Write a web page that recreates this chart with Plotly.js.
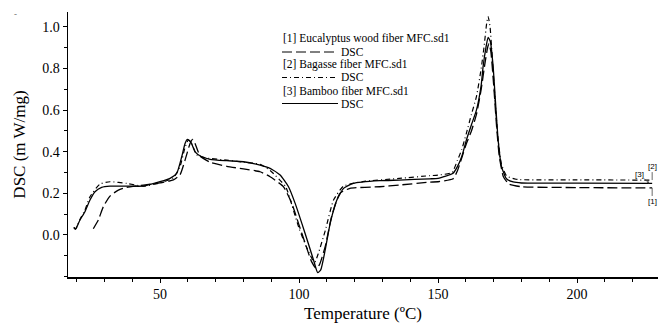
<!DOCTYPE html>
<html>
<head>
<meta charset="utf-8">
<script src="https://cdn.plot.ly/plotly-3.0.1.min.js"></script>
<style>html,body{margin:0;padding:0;background:#fff;}#chart{width:659px;height:327px;}</style>
</head>
<body>
<div id="chart"></div>
<script>
// Series names
const seriesNames = ["[1] Eucalyptus wood fiber MFC.sd1", "[2] Bagasse fiber MFC.sd1", "[3] Bamboo fiber MFC.sd1"];

// [1] Eucalyptus wood fiber MFC (dashed)
const eucT = [26, 27.8, 29.6, 32, 35, 38, 44, 50, 54.8, 57.2, 59, 60.8, 61.7, 62.6, 64.4, 68, 74, 80, 86, 89.6, 94.4, 97.4, 99.8, 102.2, 104.5, 106.1, 107.3, 109.4, 111.7, 114.7, 118.3, 129, 136, 147, 150, 155.4, 157, 158.5, 160.2, 162, 163.8, 165.5, 166.8, 167.8, 168.3, 169, 170, 171, 172, 173.5, 175.5, 180, 200, 227];
const eucY = [0.03, 0.072, 0.136, 0.187, 0.216, 0.229, 0.24, 0.25, 0.265, 0.29, 0.36, 0.44, 0.46, 0.44, 0.38, 0.35, 0.33, 0.318, 0.304, 0.28, 0.232, 0.152, 0.056, -0.04, -0.128, -0.16, -0.144, -0.056, 0.088, 0.2, 0.224, 0.232, 0.24, 0.254, 0.256, 0.27, 0.31, 0.37, 0.44, 0.5, 0.58, 0.7, 0.82, 0.9, 0.92, 0.88, 0.72, 0.53, 0.38, 0.28, 0.245, 0.232, 0.228, 0.226];

// [2] Bagasse fiber MFC (dash-dot)
const bagT = [19.0, 19.6, 20.3, 21.2, 23, 24.8, 28.4, 32, 38, 44, 50, 54.8, 57.2, 59, 60.2, 61.4, 63.2, 66.8, 74, 80, 86, 89.6, 95.2, 97.6, 100, 102.6, 104.9, 105.7, 106.9, 109.4, 112.4, 116, 123, 136, 147, 150, 155, 157, 158.5, 160.2, 162, 163.8, 165.5, 166.5, 167.5, 168, 168.7, 169.5, 170.5, 171.5, 172.8, 174.6, 178, 200, 227];
const bagY = [0.036, 0.028, 0.045, 0.075, 0.12, 0.184, 0.245, 0.256, 0.248, 0.235, 0.25, 0.275, 0.33, 0.42, 0.457, 0.44, 0.385, 0.37, 0.36, 0.35, 0.34, 0.31, 0.232, 0.136, 0.032, -0.056, -0.12, -0.13, -0.09, 0.02, 0.168, 0.235, 0.257, 0.272, 0.285, 0.288, 0.30, 0.36, 0.41, 0.49, 0.58, 0.665, 0.8, 0.9, 1.02, 1.05, 1.0, 0.85, 0.65, 0.47, 0.34, 0.285, 0.268, 0.265, 0.264];

// [3] Bamboo fiber MFC (solid)
const bamT = [19.0, 19.6, 20.3, 21.2, 23, 24.8, 26.6, 29, 32, 38, 44, 50, 53.6, 56, 57.8, 59, 59.8, 61, 62.6, 65, 68, 74, 80, 86, 89.6, 93.2, 96.2, 98.6, 101, 103.3, 105.2, 106.7, 107.8, 109.4, 111.2, 113.6, 116, 119.5, 129, 136, 147, 150, 155.4, 157, 158.5, 160.2, 162, 163.8, 165.5, 166.2, 167.2, 168, 168.8, 169.8, 170.7, 171.6, 172.8, 174.6, 177, 180, 200, 227];
const bamY = [0.036, 0.028, 0.045, 0.072, 0.112, 0.168, 0.208, 0.229, 0.235, 0.235, 0.235, 0.256, 0.272, 0.296, 0.376, 0.44, 0.46, 0.449, 0.40, 0.376, 0.364, 0.357, 0.352, 0.336, 0.32, 0.288, 0.232, 0.152, 0.056, -0.04, -0.12, -0.181, -0.168, -0.072, 0.056, 0.168, 0.224, 0.248, 0.261, 0.264, 0.27, 0.272, 0.297, 0.33, 0.376, 0.457, 0.53, 0.60, 0.72, 0.81, 0.9, 0.95, 0.93, 0.81, 0.63, 0.457, 0.33, 0.27, 0.255, 0.25, 0.249, 0.248];

const xTickVals = [50, 100, 150, 200];
const yTickVals = [0.0, 0.2, 0.4, 0.6, 0.8, 1.0];
const yTickText = ["0.0", "0.2", "0.4", "0.6", "0.8", "1.0"];

const serif = "Liberation Serif, Times New Roman, serif";
const dashEuc = "10px,4px";
const dashBag = "5px,3px,1px,3px";

const traces = [
  {x: eucT, y: eucY, name: seriesNames[0], mode: "lines", line: {color: "#000", width: 1.3, dash: dashEuc, shape: "spline", smoothing: 0.5}},
  {x: bagT, y: bagY, name: seriesNames[1], mode: "lines", line: {color: "#000", width: 1.2, dash: dashBag, shape: "spline", smoothing: 0.5}},
  {x: bamT, y: bamY, name: seriesNames[2], mode: "lines", line: {color: "#000", width: 1.3, shape: "spline", smoothing: 0.5}}
];

// legend block (paper coords computed from plot area)
const L = 68, R = 658, T = 12, B = 277;
const px = p => (p - L) / (R - L);
const py = p => (B - p) / (B - T);

const legendText = [
  {t: seriesNames[0], y: 39},
  {t: "DSC", y: 52, dsc: true},
  {t: seriesNames[1], y: 64.5},
  {t: "DSC", y: 77.5, dsc: true},
  {t: seriesNames[2], y: 90.5},
  {t: "DSC", y: 103.5, dsc: true}
];
const annotations = legendText.map(d => ({
  xref: "paper", yref: "paper", x: px(d.dsc ? 340 : 282), y: py(d.y),
  xanchor: "left", yanchor: "middle", showarrow: false, text: d.t, borderpad: 0,
  font: {family: serif, size: 11.5, color: "#000"}
}));

const small = {family: "Liberation Sans, Arial, sans-serif", size: 8, color: "#000"};
annotations.push(
  {xref: "x", yref: "y", x: eucT[eucT.length - 1], y: eucY[eucY.length - 1], text: "[1]", font: small, borderpad: 0,
   showarrow: true, arrowhead: 0, arrowwidth: 0.8, ax: 0, ay: 8, standoff: 0, yanchor: "top"},
  {xref: "x", yref: "y", x: bagT[bagT.length - 1], y: bagY[bagY.length - 1], text: "[2]", font: small, borderpad: 0,
   showarrow: true, arrowhead: 0, arrowwidth: 0.8, ax: 0, ay: -8, standoff: 0, yanchor: "bottom"},
  {xref: "x", yref: "y", x: bamT[bamT.length - 1] - 1, y: bamY[bamY.length - 1], text: "[3]", font: small, borderpad: 0,
   showarrow: true, arrowhead: 2, arrowsize: 0.6, arrowwidth: 0.8, ax: -10, ay: -9, standoff: 0},
  {xref: "paper", yref: "paper", x: px(12), y: py(7), text: "-", showarrow: false,
   font: {family: serif, size: 9, color: "#666"}}
);

const shapes = [
  {type: "line", xref: "paper", yref: "paper", x0: px(282), x1: px(338), y0: py(52), y1: py(52), line: {color: "#000", width: 1, dash: dashEuc}},
  {type: "line", xref: "paper", yref: "paper", x0: px(282), x1: px(338), y0: py(77.5), y1: py(77.5), line: {color: "#000", width: 1, dash: dashBag}},
  {type: "line", xref: "paper", yref: "paper", x0: px(282), x1: px(338), y0: py(103.5), y1: py(103.5), line: {color: "#000", width: 1}}
];

const layout = {
  width: 659, height: 327,
  margin: {l: L, r: 659 - R, t: T, b: 327 - B, pad: 0},
  paper_bgcolor: "#fff", plot_bgcolor: "#fff",
  showlegend: false,
  xaxis: {
    range: [16.9, 229.1], showgrid: false, zeroline: false,
    showline: true, linecolor: "#000", linewidth: 1.5, mirror: false,
    tickmode: "array", tickvals: xTickVals, ticks: "outside", ticklen: 4, tickcolor: "#000",
    minor: {dtick: 10, tick0: 0, ticks: "outside", ticklen: 3, tickcolor: "#000"},
    tickfont: {family: serif, size: 14, color: "#000"},
    title: {text: "Temperature (ºC)", font: {family: serif, size: 17, color: "#000"}, standoff: 6}
  },
  yaxis: {
    range: [-0.202, 1.072], showgrid: false, zeroline: false,
    showline: true, linecolor: "#000", linewidth: 1.5, mirror: false,
    tickmode: "array", tickvals: yTickVals, ticktext: yTickText, ticks: "outside", ticklen: 4, tickcolor: "#000",
    minor: {dtick: 0.1, tick0: 0, ticks: "outside", ticklen: 3, tickcolor: "#000"},
    tickfont: {family: serif, size: 14, color: "#000"},
    title: {text: "DSC (m W/mg)", font: {family: serif, size: 17, color: "#000"}, standoff: 12}
  },
  annotations: annotations,
  shapes: shapes
};

Plotly.newPlot("chart", traces, layout, {staticPlot: true, displayModeBar: false});
</script>
</body>
</html>
